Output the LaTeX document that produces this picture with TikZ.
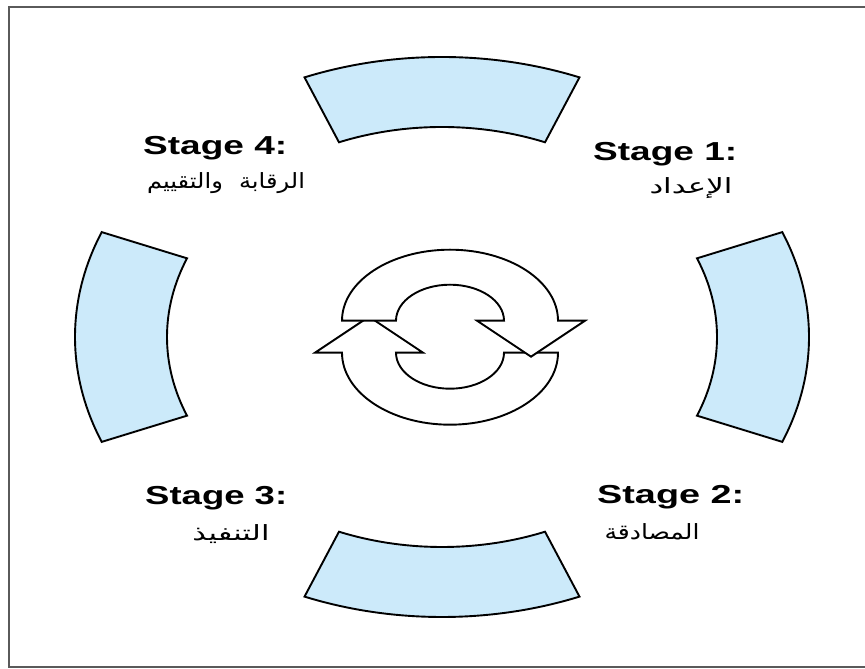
\documentclass[tikz,border=0pt]{standalone}
\usepackage{fontspec}
\setmainfont{Liberation Sans}
\newfontfamily\arabicfont[Script=Arabic]{DejaVu Sans}
\TeXXeTstate=1
\definecolor{segfill}{RGB}{204,234,250}
\definecolor{framegray}{RGB}{90,90,90}
\begin{document}
\begin{tikzpicture}[x=1pt,y=1pt,
  seg/.style={draw=black, line width=1.9pt, fill=segfill, line join=miter},
  arrowshape/.style={draw=black, line width=1.9pt, fill=white, line join=miter},
  frameline/.style={draw=framegray, line width=2pt},
  title/.style={font=\fontsize{26}{26}\selectfont\bfseries, inner sep=0pt, anchor=base west},
  arab/.style={font=\arabicfont\fontsize{21}{21}\selectfont, inner sep=0pt}]
\useasboundingbox (0,0) rectangle (865,669);
\clip (0,0) rectangle (865,669);
\fill[white] (0,0) rectangle (865,669);
\draw[frameline] (9,2) rectangle (880,662);
% ring segments
\begin{scope}[shift={(442,332)}]
\foreach \a in {90,0,180,270} {
  \path[seg] (\a-22:275pt and 210pt) -- (\a-22:367pt and 280pt)
    arc[start angle=\a-22, end angle=\a+22, x radius=367pt, y radius=280pt]
    -- (\a+22:275pt and 210pt)
    arc[start angle=\a+22, end angle=\a-22, x radius=275pt, y radius=210pt]
    -- cycle;
}
\end{scope}
% circular arrows: lower first, upper on top
\path[arrowshape] (558,316.3)
  arc[start angle=0, end angle=-180, x radius=108pt, y radius=72pt]
  -- (315,316.3) -- (369,352.3) -- (423,316.3) -- (396,316.3)
  arc[start angle=180, end angle=360, x radius=54pt, y radius=36pt] -- cycle;
\path[arrowshape] (342,348.3)
  arc[start angle=180, end angle=0, x radius=108pt, y radius=71pt]
  -- (585,348.3) -- (531,312.3) -- (477,348.3) -- (504,348.3)
  arc[start angle=0, end angle=180, x radius=54pt, y radius=36pt] -- cycle;
% titles
\node[title] (s4) at (143,514) {\resizebox{144pt}{\height}{Stage 4:}};
\node[title] (s1) at (593,508) {\resizebox{144pt}{\height}{Stage 1:}};
\node[title] (s3) at (145,164) {\resizebox{142pt}{\height}{Stage 3:}};
\node[title] (s2) at (597,165) {\resizebox{147pt}{\height}{Stage 2:}};
% arabic labels
\node[arab] (a4) at (226,486) {\resizebox{158pt}{\height}{\beginR والتقييم\endR\hspace{14pt}\beginR الرقابة\endR}};
\node[arab] (a1) at (691,481) {\resizebox{83pt}{\height}{\beginR الإعداد\endR}};
\node[arab] (a3) at (231,135) {\resizebox{77pt}{\height}{\beginR التنفيذ\endR}};
\node[arab] (a2) at (652,137) {\resizebox{95pt}{\height}{\beginR المصادقة\endR}};
\end{tikzpicture}
\end{document}
